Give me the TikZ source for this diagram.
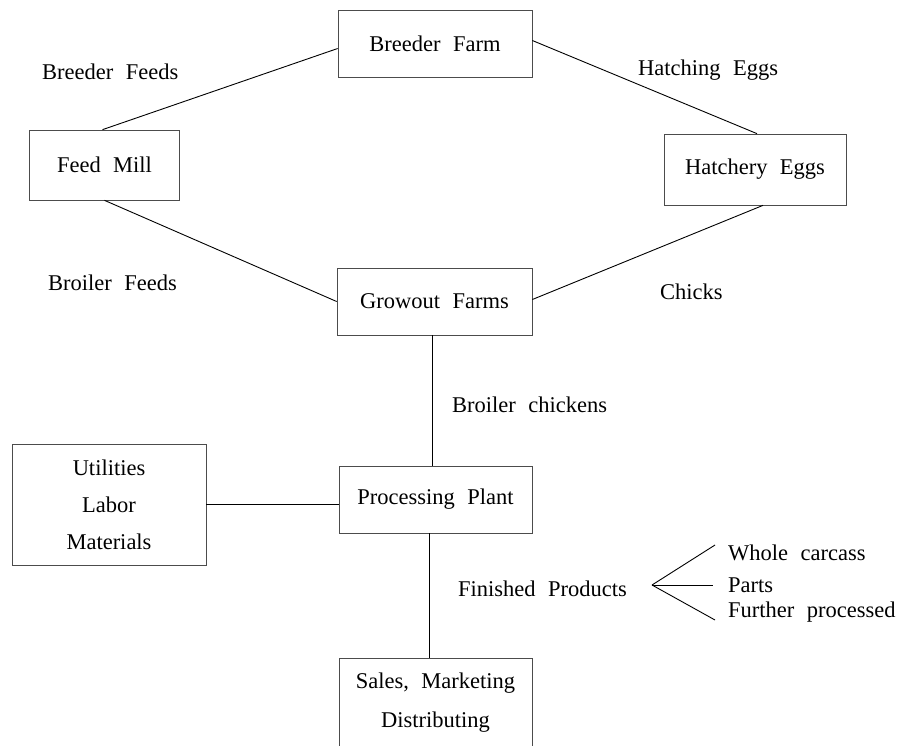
\documentclass[tikz,border=0pt]{standalone}
\usepackage{fontspec}
\setmainfont{Liberation Serif}[WordSpace=2.2]
\usepackage{tikz}
\usetikzlibrary{positioning}
\tikzstyle{stage} = [rectangle, draw=black!70, line width=0.7pt, inner sep=0pt, align=center, font=\fontsize{22.5}{37}\selectfont]
\tikzstyle{flowlabel} = [inner sep=0pt, anchor=base west, font=\fontsize{22.5}{37}\selectfont]
\tikzstyle{link} = [draw=black, line width=0.9pt]

\begin{document}
\begin{tikzpicture}[x=1pt, y=-1pt]
\clip (0,0) rectangle (901,745);

\node (bfarm) [stage, minimum width=194, minimum height=67] at (435,43.5) {Breeder Farm};
\node (mill) [stage, minimum width=150, minimum height=70] at (104.5,165) {Feed Mill};
\node (hatch) [stage, minimum width=182, minimum height=71] at (755,169.5) {Hatchery Eggs};
\node (grow) [stage, minimum width=195, minimum height=67] at (434.5,301.5) {Growout Farms};
\node (ulm) [stage, minimum width=194, minimum height=121] at (109,504.5) {Utilities\\Labor\\Materials};
\node (plant) [stage, minimum width=193, minimum height=67] at (435.5,499.5) {Processing Plant};
\node (sales) [stage, minimum width=193, minimum height=89] at (435.5,702.5) {Sales, Marketing\\[2pt]Distributing};

\node (lbreed) [flowlabel] at (42,79.5) {Breeder Feeds};
\node (leggs) [flowlabel] at (638,75.5) {Hatching Eggs};
\node (lbroil) [flowlabel] at (48,290.5) {Broiler Feeds};
\node (lchick) [flowlabel] at (660,299.5) {Chicks};
\node (lbird) [flowlabel] at (452,412.5) {Broiler chickens};
\node (lfin) [flowlabel] at (458,596) {Finished Products};
\node (lwhole) [flowlabel] at (728,560) {Whole carcass};
\node (lparts) [flowlabel] at (728,592) {Parts};
\node (lfurther) [flowlabel] at (728,617) {Further processed};

% loop of supply
\draw [link] ([yshift=-5]bfarm.west) -- ([xshift=-2]mill.north);
\draw [link] (mill.south) -- (grow.west);
\draw [link] ([yshift=3]bfarm.east) -- ([xshift=2]hatch.north);
\draw [link] ([xshift=8]hatch.south) -- ([yshift=2]grow.east);

% main chain
\draw [link] ([xshift=-2.5]grow.south) -- ([xshift=-3.5]plant.north);
\draw [link] (ulm.east) -- (ulm.east -| plant.west);
\draw [link] ([xshift=-6.5]plant.south) -- ([xshift=-6.5]sales.north);

% product split
\coordinate (fan) at (652,585);
\coordinate (endwhole) at (715,545);
\coordinate (endparts) at (713,585);
\coordinate (endfurther) at (715,620);
\draw [link] (fan) -- (endwhole);
\draw [link] (fan) -- (endparts);
\draw [link] (fan) -- (endfurther);
\end{tikzpicture}
\end{document}
